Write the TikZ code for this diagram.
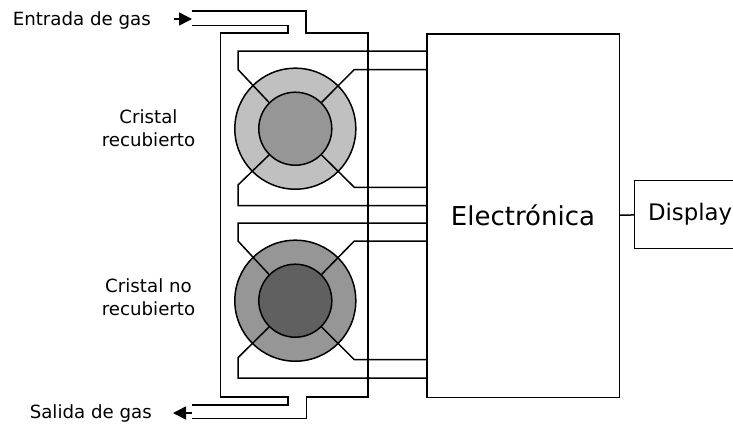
\documentclass[tikz,border=0pt]{standalone}
\usepackage{fontspec}
\setmainfont{DejaVu Sans}
\usetikzlibrary{arrows.meta}
\tikzset{
  wire/.style={draw,line width=1.5pt,line join=miter},
  label/.style={inner sep=0pt,align=center,font=\fontsize{18.2}{22.6}\selectfont},
  outerdisc/.style={circle,draw,line width=1.5pt,minimum size=121pt,inner sep=0pt},
  innerdisc/.style={circle,draw,line width=1.5pt,minimum size=73pt,inner sep=0pt},
  block/.style={draw,line width=1.5pt,inner sep=0pt,font=\fontsize{26}{30}\selectfont},
  gasarrow/.style={line width=1.5pt,-{Triangle[length=13pt,width=13pt]}}
}
\begin{document}
\begin{tikzpicture}[x=1pt,y=-1pt]
            \useasboundingbox (0,0) rectangle (733,423);
            \node [block,minimum width=192.5pt,minimum height=363.5pt] (elec) at (523,215.5) {Electrónica};
            \node [block,minimum width=120pt,minimum height=68pt,text width=93pt,align=left,font=\fontsize{22.8}{28}\selectfont] (disp) at (694.5,214.7) {Display};

            \node [outerdisc,fill={rgb,255:red,192;green,192;blue,192}] (ringA) at (295.3,128.7) {};
            \node [outerdisc,fill={rgb,255:red,150;green,150;blue,150}] (ringB) at (295.3,300.7) {};
            \node [innerdisc,fill={rgb,255:red,150;green,150;blue,150}] (coreA) at (295.3,128.7) {};
            \node [innerdisc,fill={rgb,255:red,96;green,96;blue,96}] (coreB) at (295.3,300.7) {};

            \node [label,anchor=east] (inlab) at (151,20.5) {Entrada de gas};
            \node [label,anchor=east] (outlab) at (152,413) {Salida de gas};
            \node [label] (labA) at (148.5,128.5) {Cristal\\recubierto};
            \node [label] (labB) at (148.5,297) {Cristal no\\recubierto};

            \coordinate (inA) at (174,19);
            \coordinate (inB) at (192,19);
            \coordinate (outA) at (192,413);
            \coordinate (outB) at (173,413);
            \draw [gasarrow] (inA) -- (inB);
            \draw [gasarrow] (outA) -- (outB);

            % gas chamber
            \coordinate (topA) at (192,11);
            \coordinate (topB) at (192,25.5);
            \coordinate (botA) at (192,405);
            \coordinate (botB) at (192,418.7);
            \draw [wire] (topA) -- (306,11) -- (306,33) -- (368,33) -- (368,397) -- (306.5,397) -- (306.5,418.7) -- (botB);
            \draw [wire] (topB) -- (288,25.5) -- (288,33) -- (220.5,33) -- (220.5,397) -- (288,397) -- (288,405) -- (botA);

            % upper crystal
            \draw [wire] (elec.west |- 0,51) -- (238,51) -- (238,69.5) -- (coreA.135);
            \draw [wire] (elec.west |- 0,69.5) -- (354.3,69.5) -- (coreA.45);
            \draw [wire] (elec.west |- 0,187.3) -- (354.3,187.3) -- (coreA.-45);
            \draw [wire] (elec.west |- 0,205.7) -- (238,205.7) -- (238,185) -- (coreA.-135);

            % lower crystal
            \draw [wire] (elec.west |- 0,223) -- (238,223) -- (238,241) -- (coreB.135);
            \draw [wire] (elec.west |- 0,241) -- (354.3,241) -- (coreB.45);
            \draw [wire] (elec.west |- 0,359.7) -- (354.3,359.7) -- (coreB.-45);
            \draw [wire] (elec.west |- 0,378) -- (238,378) -- (238,357.7) -- (coreB.-135);

            \draw [wire] (elec) -- (disp);
        \end{tikzpicture}
\end{document}
